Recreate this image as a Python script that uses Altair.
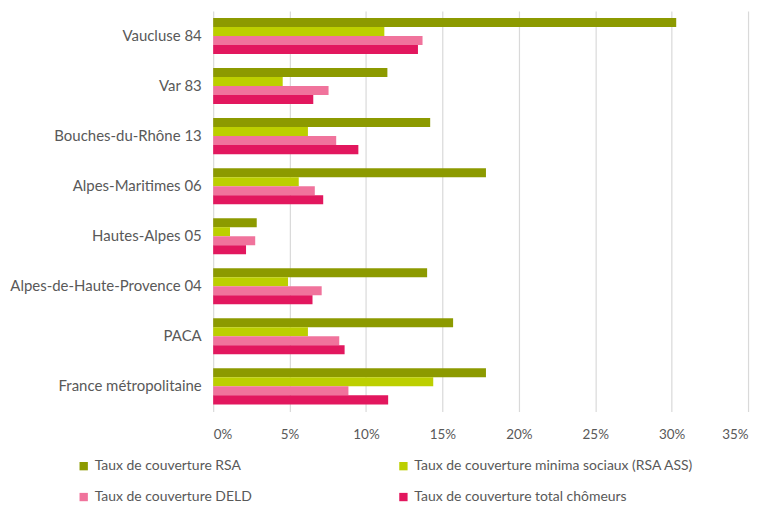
import altair as alt
import pandas as pd

categories = ["Vaucluse 84", "Var 83", "Bouches-du-Rhône 13", "Alpes-Maritimes 06",
              "Hautes-Alpes 05", "Alpes-de-Haute-Provence 04", "PACA", "France métropolitaine"]
series = ["Taux de couverture RSA", "Taux de couverture minima sociaux (RSA ASS)",
          "Taux de couverture DELD", "Taux de couverture total chômeurs"]
rsa = [30.3, 11.4, 14.2, 17.85, 2.85, 14.0, 15.7, 17.85]
minima = [11.2, 4.55, 6.2, 5.6, 1.1, 4.9, 6.2, 14.4]
deld = [13.7, 7.55, 8.05, 6.65, 2.75, 7.1, 8.25, 8.85]
total = [13.4, 6.55, 9.5, 7.2, 2.15, 6.5, 8.6, 11.45]
colors = ["#8C9A00", "#BCCF00", "#F0739C", "#E2175E"]
x_ticks = [0, 5, 10, 15, 20, 25, 30, 35]

rows = []
for s, vals in zip(series, [rsa, minima, deld, total]):
    for c, v in zip(categories, vals):
        rows.append({"cat": c, "serie": s, "val": v / 100})
df = pd.DataFrame(rows)

# legend is laid out column by column: order entries so rows read as in the original
legend_order = [series[0], series[2], series[1], series[3]]
legend_colors = [colors[0], colors[2], colors[1], colors[3]]

font = "Lato"
grey = "#595959"

chart = alt.Chart(df).mark_bar().encode(
    y=alt.Y("cat:N", sort=categories, title=None,
            scale=alt.Scale(paddingInner=0.28, paddingOuter=0.14),
            axis=alt.Axis(domain=False, ticks=False, labelFont=font, labelFontSize=15,
                          labelColor=grey, labelPadding=12, labelLimit=300)),
    yOffset=alt.YOffset("serie:N", sort=series),
    x=alt.X("val:Q", title=None,
            scale=alt.Scale(domain=[0, 0.35], nice=False),
            axis=alt.Axis(format=".0%", values=[t / 100 for t in x_ticks], domain=False, ticks=False,
                          grid=True, gridColor="#D9D9D9", gridWidth=1.2,
                          labelFont=font, labelFontSize=13.5, labelColor=grey, labelPadding=16)),
    color=alt.Color("serie:N", sort=legend_order,
                    scale=alt.Scale(domain=legend_order, range=legend_colors),
                    legend=alt.Legend(title=None, orient="none", legendX=-137, legendY=450,
                                      columns=2, columnPadding=145, rowPadding=17,
                                      symbolType="square", symbolSize=70, symbolStrokeWidth=0,
                                      labelFont=font, labelFontSize=14, labelColor=grey,
                                      labelLimit=400)),
).properties(
    width=537, height=402,
    autosize=alt.AutoSizeParams(type="none"),
    padding={"left": 206, "top": 2, "right": 10, "bottom": 96},
).configure_view(stroke=None)

chart.save("out.html", embed_options={"renderer": "svg", "actions": False})
